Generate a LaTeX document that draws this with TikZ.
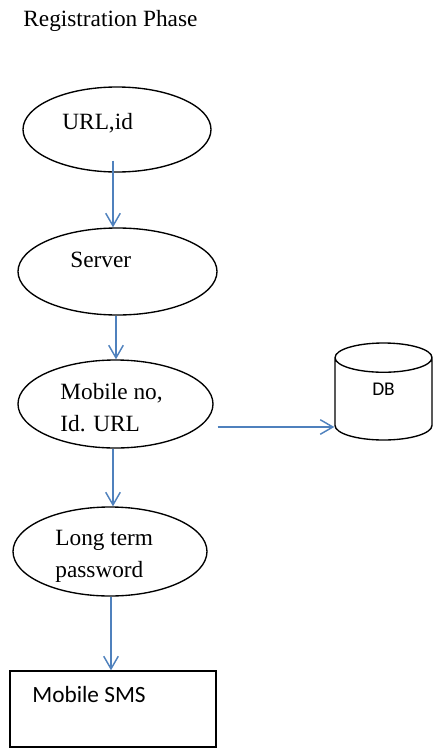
\documentclass[tikz,border=0pt]{standalone}
\usepackage{fontspec}
\setmainfont{Liberation Serif}
\newfontfamily\calib{Carlito}
\usepackage{tikz}
\usetikzlibrary{arrows.meta, shapes, calc, positioning}
\newcommand{\px}{0.515pt}
\definecolor{arrowblue}{RGB}{79,129,189}
\tikzstyle{phase} = [ellipse, draw=black, line width=0.7pt, inner sep=0]
\tikzstyle{label} = [anchor=base west, inner sep=0, font=\fontsize{12}{16}\selectfont, align=left]
\tikzstyle{flow} = [draw=arrowblue, line width=0.75pt, -{Straight Barb[length=6.5pt, width=7.5pt]}]

\begin{document}
\begin{tikzpicture}[x=\px, y=-\px]
				\useasboundingbox (0, 0) rectangle (433, 748);

				\node (Title) [label] at (23, 26) {Registration Phase};

				\node (Url) [phase, minimum width=188*\px, minimum height=85*\px] at (117, 129.5) {};
				\node (UrlText) [label] at (62, 129) {URL,id};

				\node (Server) [phase, minimum width=199*\px, minimum height=87*\px] at (117.5, 271.5) {};
				\node (ServerText) [label] at (70, 267) {Server};

				\node (Mobile) [phase, minimum width=195*\px, minimum height=88*\px] at (115.5, 404) {};
				\node (MobileText) [label] at (60, 431) {Mobile no,\\Id. URL};

				\node (Password) [phase, minimum width=194*\px, minimum height=89*\px] at (110, 551.5) {};
				\node (PasswordText) [label] at (55, 577) {Long term\\password};

				\node (SMS) [draw=black, line width=0.7pt, inner sep=0, minimum width=206*\px, minimum height=76*\px] at (113, 709) {};
				\node (SMSText) [label, font=\calib\fontsize{12}{14}\selectfont] at (32, 702) {Mobile SMS};

				\node (DB) [cylinder, shape border rotate=90, aspect=1.3, draw=black, line width=0.7pt, inner sep=0,
				            minimum width=97*\px, minimum height=97*\px, anchor=shape center,
				            font=\calib\fontsize{10}{12}\selectfont] at (383.5, 391.5) {\phantom{DB}};
				\node (DBText) [font=\calib\fontsize{10}{12}\selectfont, inner sep=0] at (383.5, 389) {DB};

				\draw[flow] ([shift={(-4, -12)}]Url.south) coordinate (A1) -- (A1 |- Server.north);
				\draw[flow] ([xshift=-1.5*\px]Server.south) coordinate (A2) -- (A2 |- Mobile.north);
				\draw[flow] ([xshift=-2.5*\px]Mobile.south) coordinate (A3) -- (A3 |- Password.north);
				\draw[flow] ([xshift=1*\px]Password.south) coordinate (A4) -- (A4 |- SMS.north);
				\draw[flow] ([shift={(4, 23)}]Mobile.east) coordinate (A5) -- (A5 -| DB.west);
			\end{tikzpicture}
\end{document}
